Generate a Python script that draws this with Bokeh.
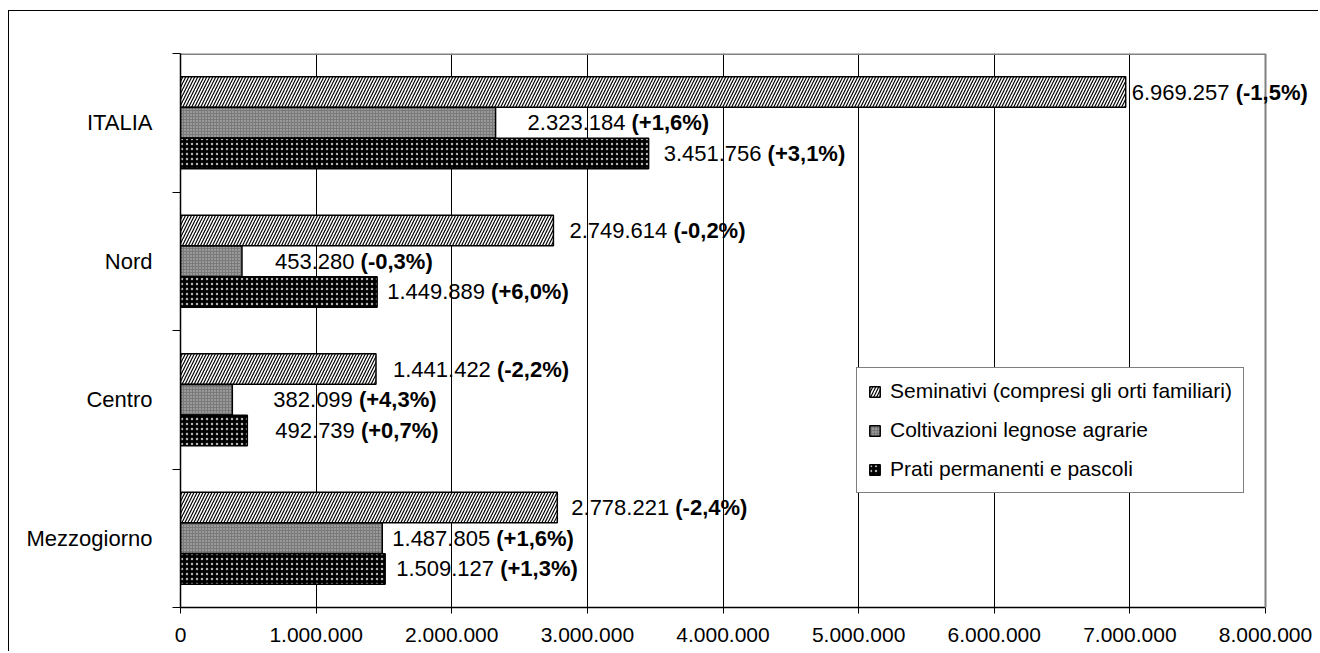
from bokeh.plotting import figure
from bokeh.models import Range1d, FixedTicker, Legend, LegendItem, ColumnDataSource, LabelSet, Span
from bokeh.core.properties import value
from bokeh.embed import file_html
from bokeh.resources import INLINE

# ---------------- data ----------------
regions = ["ITALIA", "Nord", "Centro", "Mezzogiorno"]
series_names = ["Seminativi (compresi gli orti familiari)",
                "Coltivazioni legnose agrarie",
                "Prati permanenti e pascoli"]
seminativi = [6969257, 2749614, 1441422, 2778221]
seminativi_var = ["-1,5%", "-0,2%", "-2,2%", "-2,4%"]
legnose = [2323184, 453280, 382099, 1487805]
legnose_var = ["+1,6%", "-0,3%", "+4,3%", "+1,6%"]
prati = [3451756, 1449889, 492739, 1509127]
prati_var = ["+3,1%", "+6,0%", "+0,7%", "+1,3%"]
x_ticks = [0, 1000000, 2000000, 3000000, 4000000, 5000000, 6000000, 7000000, 8000000]
x_tick_labels = ["0", "1.000.000", "2.000.000", "3.000.000", "4.000.000",
                 "5.000.000", "6.000.000", "7.000.000", "8.000.000"]

# ---------------- layout / style ----------------
FONT = "Liberation Sans"
LABEL_PX = 22
bar_h = 0.22
offsets = [-0.222, 0.0, 0.222]
# pixel gap between bar end and its label (as placed in the original)
label_gap_px = [[6, 16, 17, 14], [32, 33, 41, 10], [15, 10, 28, 11]]

styles = [
    dict(fill_color="white", hatch_pattern="/", hatch_color="black",
         hatch_scale=6, hatch_weight=1.2),
    dict(fill_color="#7a7a7a", hatch_pattern=".", hatch_color="#c8c8c8",
         hatch_scale=3, hatch_weight=1),
    dict(fill_color="black", hatch_pattern=".", hatch_color="#b4b4b4",
         hatch_scale=5, hatch_weight=1),
]

CHAR_EM = {c: 0.556 for c in "0123456789"}
CHAR_EM.update({".": 0.278, " ": 0.278})


def it_num(v):
    return f"{v:,}".replace(",", ".")


def text_w(s, px):
    return sum(CHAR_EM.get(c, 0.556) for c in s) * px


# canvas: x 9..1319 ; frame x 180 (0) .. 1265 (8M); frame extended right so labels are not clipped
FRAME_L, FRAME_8M, FRAME_R = 180, 1265, 1312
x_min, x_max = x_ticks[0], x_ticks[-1]
x_end = x_min + (x_max - x_min) * (FRAME_R - FRAME_L) / (FRAME_8M - FRAME_L)

p = figure(width=1310, height=641,
           x_range=Range1d(x_min, x_end), y_range=Range1d(len(regions), 0),
           output_backend="svg", toolbar_location=None,
           min_border_left=171, min_border_right=1319 - FRAME_R,
           min_border_top=42, min_border_bottom=45)
p.styles = {"border-left": "1px solid black", "border-top": "1px solid black",
            "margin-left": "8px", "margin-top": "10px"}
p.background_fill_color = "white"
p.border_fill_color = "white"
p.outline_line_color = None

# x axis
p.xaxis.ticker = FixedTicker(ticks=x_ticks)
p.xaxis.bounds = (x_min, x_max)
p.xaxis.major_label_overrides = dict(zip(x_ticks, x_tick_labels))
p.xaxis.major_tick_out = 6
p.xaxis.major_tick_in = 0
p.xaxis.minor_tick_line_color = None
p.xaxis.major_label_standoff = 14
p.xaxis.major_label_text_font = FONT
p.xaxis.major_label_text_font_size = "21px"
p.xaxis.major_label_text_color = "black"
p.xaxis.axis_line_color = "black"
p.xaxis.axis_line_width = 1.5
p.xaxis.major_tick_line_color = "black"

p.xgrid.ticker = FixedTicker(ticks=x_ticks[:-1])
p.xgrid.grid_line_color = "black"
p.xgrid.grid_line_width = 1
p.ygrid.visible = False

# plot-area border (grey) on top and right, ending at the last tick
p.add_layout(Span(location=x_max, dimension="height", line_color="#808080", line_width=2))
p.segment(x0=[x_min], y0=[0], x1=[x_max], y1=[0], line_color="#808080", line_width=3)

# y axis: labels at category centres, ticks at boundaries
centers = [i + 0.5 for i in range(len(regions))]
bounds = [float(i) for i in range(len(regions) + 1)]
p.yaxis.ticker = FixedTicker(ticks=centers, minor_ticks=bounds)
p.yaxis.major_label_overrides = dict(zip(centers, regions))
p.yaxis.major_tick_line_color = None
p.yaxis.major_tick_out = 0
p.yaxis.major_tick_in = 0
p.yaxis.minor_tick_out = 8
p.yaxis.minor_tick_in = 0
p.yaxis.minor_tick_line_color = "black"
p.yaxis.major_label_standoff = 20
p.yaxis.major_label_text_font = FONT
p.yaxis.major_label_text_font_size = "22px"
p.yaxis.major_label_text_color = "black"
p.yaxis.axis_line_color = "black"
p.yaxis.axis_line_width = 1.5

series_vals = [seminativi, legnose, prati]
series_vars = [seminativi_var, legnose_var, prati_var]

legend_items = []
for k, (vals, vars_) in enumerate(zip(series_vals, series_vars)):
    ys = [c + offsets[k] for c in centers]
    src = ColumnDataSource(dict(
        y=ys, right=vals,
        num=[it_num(v) + " " for v in vals],
        pct=["(" + s + ")" for s in vars_],
        off1=label_gap_px[k],
        off2=[g + text_w(it_num(v) + " ", LABEL_PX) for g, v in zip(label_gap_px[k], vals)],
    ))
    r = p.hbar(y="y", right="right", left=0, height=bar_h, source=src,
               line_color="black", line_width=1.5, **styles[k])
    legend_items.append(LegendItem(label=series_names[k], renderers=[r]))
    p.add_layout(LabelSet(x="right", y="y", text="num", x_offset="off1", source=src,
                          text_font=value(FONT), text_font_size=f"{LABEL_PX}px",
                          text_baseline="middle", text_align="left", text_color="black"))
    p.add_layout(LabelSet(x="right", y="y", text="pct", x_offset="off2", source=src,
                          text_font=value(FONT), text_font_size=f"{LABEL_PX}px",
                          text_font_style="bold",
                          text_baseline="middle", text_align="left", text_color="black"))

legend = Legend(items=legend_items, location=(676, 114))
legend.label_text_font = FONT
legend.label_text_font_size = "21px"
legend.label_text_color = "black"
legend.glyph_width = 13
legend.glyph_height = 13
legend.label_standoff = 9
legend.padding = 11
legend.spacing = 15
legend.margin = 0
legend.border_line_color = "black"
legend.border_line_width = 1
legend.background_fill_color = "white"
legend.background_fill_alpha = 1
p.add_layout(legend, "center")

open("out.html", "w").write(file_html(p, INLINE))
